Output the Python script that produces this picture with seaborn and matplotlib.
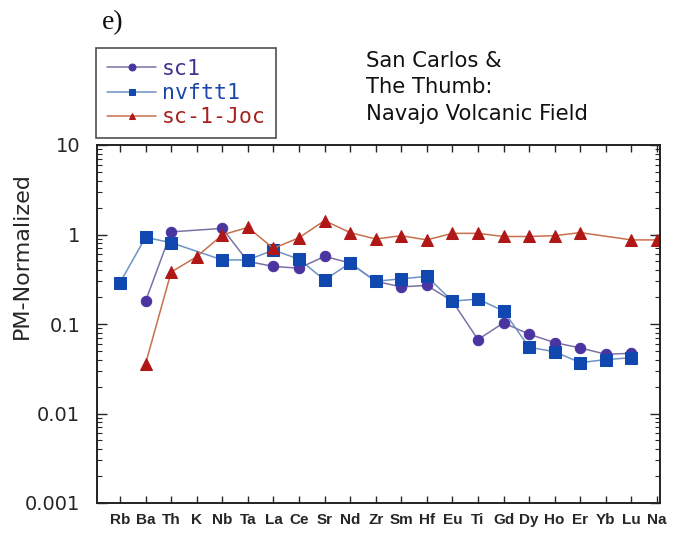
import numpy as np
import pandas as pd
import matplotlib
matplotlib.use("Agg")
import matplotlib.pyplot as plt
import seaborn as sns
from matplotlib.ticker import LogLocator, FixedLocator, FixedFormatter, NullFormatter

elements = ["Rb", "Ba", "Th", "K", "Nb", "Ta", "La", "Ce", "Sr", "Nd", "Zr",
            "Sm", "Hf", "Eu", "Ti", "Gd", "Dy", "Ho", "Er", "Yb", "Lu", "Na"]
nan = np.nan
sc1 = [nan, 0.18, 1.07, nan, 1.17, 0.50, 0.44, 0.42, 0.57, 0.48, 0.30,
       0.26, 0.27, 0.18, 0.067, 0.103, 0.077, 0.062, 0.054, 0.046, 0.047, nan]
nvftt1 = [0.29, 0.93, 0.81, nan, 0.52, 0.52, 0.67, 0.53, 0.31, 0.48, 0.30,
          0.32, 0.34, 0.18, 0.19, 0.14, 0.055, 0.049, 0.037, 0.040, 0.042, nan]
sc1joc = [nan, 0.036, 0.38, 0.565, 0.99, 1.2, 0.70, 0.92, 1.43, 1.05, 0.89,
          0.97, 0.87, 1.03, 1.03, 0.95, 0.95, 0.97, 1.05, nan, 0.87, 0.87]

series_names = ["sc1", "nvftt1", "sc-1-Joc"]
series_vals = [sc1, nvftt1, sc1joc]
title_lines = ["San Carlos &", "The Thumb:", "Navajo Volcanic Field"]

rows = []
for name, vals in zip(series_names, series_vals):
    for i, v in enumerate(vals):
        if not np.isnan(v):
            rows.append({"series": name, "idx": i, "value": v})
df = pd.DataFrame(rows)

sns.set_style("ticks")
plt.rcParams["font.family"] = ["DejaVu Sans"]

W, H = 674, 533
fig = plt.figure(figsize=(W / 100, H / 100), dpi=100)
ax = fig.add_axes([97 / W, 1 - 503 / H, (660 - 97) / W, (503 - 145) / H])

styles = {
    "sc1": dict(color="#7a72a6", marker="o", markersize=7.5,
                markerfacecolor="#4a35a0", markeredgecolor="#4a35a0", text="#3d3490"),
    "nvftt1": dict(color="#6f92c4", marker="s", markersize=8.5,
                   markerfacecolor="#1048b0", markeredgecolor="#1048b0", text="#1a48a8"),
    "sc-1-Joc": dict(color="#c8704c", marker="^", markersize=9,
                     markerfacecolor="#b01818", markeredgecolor="#b01818", text="#a82020"),
}

for name in series_names:
    st = dict(styles[name])
    st.pop("text")
    sub = df[df["series"] == name]
    sns.lineplot(data=sub, x="idx", y="value", ax=ax, sort=True,
                 estimator=None, linewidth=1.1, label=name, **st)

ax.set_yscale("log")
ax.set_ylim(0.001, 10)
ax.set_xlim(-0.9, 21.12)

ax.xaxis.set_major_locator(FixedLocator(range(len(elements))))
ax.xaxis.set_major_formatter(FixedFormatter(elements))
ax.set_yticks([0.001, 0.01, 0.1, 1, 10])
ax.set_yticklabels(["0.001", "0.01", "0.1", "1", "10"])
ax.yaxis.set_minor_locator(LogLocator(base=10, subs=np.arange(2, 10), numticks=20))
ax.yaxis.set_minor_formatter(NullFormatter())

ax.tick_params(axis="x", which="major", direction="in", top=True, bottom=True,
               length=5, width=1, labelsize=11, pad=7)
ax.tick_params(axis="y", which="major", direction="in", left=True, right=True,
               length=7, width=1, labelsize=14, pad=12)
ax.tick_params(axis="y", which="minor", direction="in", left=True, right=True,
               length=3.5, width=0.8)
for lab in ax.get_xticklabels():
    lab.set_fontweight("bold")
    lab.set_family(["Liberation Sans", "DejaVu Sans"])

for sp in ax.spines.values():
    sp.set_visible(True)
    sp.set_linewidth(1.4)
    sp.set_color("#222222")

ax.set_xlabel("")
ax.set_ylabel("PM-Normalized", fontsize=16, ha="center", va="center")
ax.yaxis.set_label_coords((22 - 97) / (660 - 97), (503 - 256) / (503 - 145))

handles, labels = ax.get_legend_handles_labels()
leg = ax.legend(handles, labels, loc="upper left",
                bbox_to_anchor=(96 / W, 1 - 48 / H), bbox_transform=fig.transFigure,
                borderaxespad=0, frameon=True, fancybox=False, edgecolor="#222222",
                prop={"family": ["DejaVu Sans Mono"], "size": 15.5},
                handlelength=2.3, handletextpad=0.25,
                labelspacing=0.2, borderpad=0.5)
leg.get_frame().set_linewidth(1.2)
for txt, name in zip(leg.get_texts(), labels):
    txt.set_color(styles[name]["text"])
for h in leg.legend_handles:
    h.set_markersize(5)

for line, yb in zip(title_lines, [67, 93, 120]):
    fig.text(366 / W, 1 - yb / H, line, ha="left", va="baseline",
             fontsize=15.2, color="#111111")
fig.text(102 / W, 1 - 23 / H, "e)", ha="left", va="center", fontsize=20,
         family=["Liberation Serif", "DejaVu Serif"], color="#111111")

fig.savefig("out.png", dpi=100)
